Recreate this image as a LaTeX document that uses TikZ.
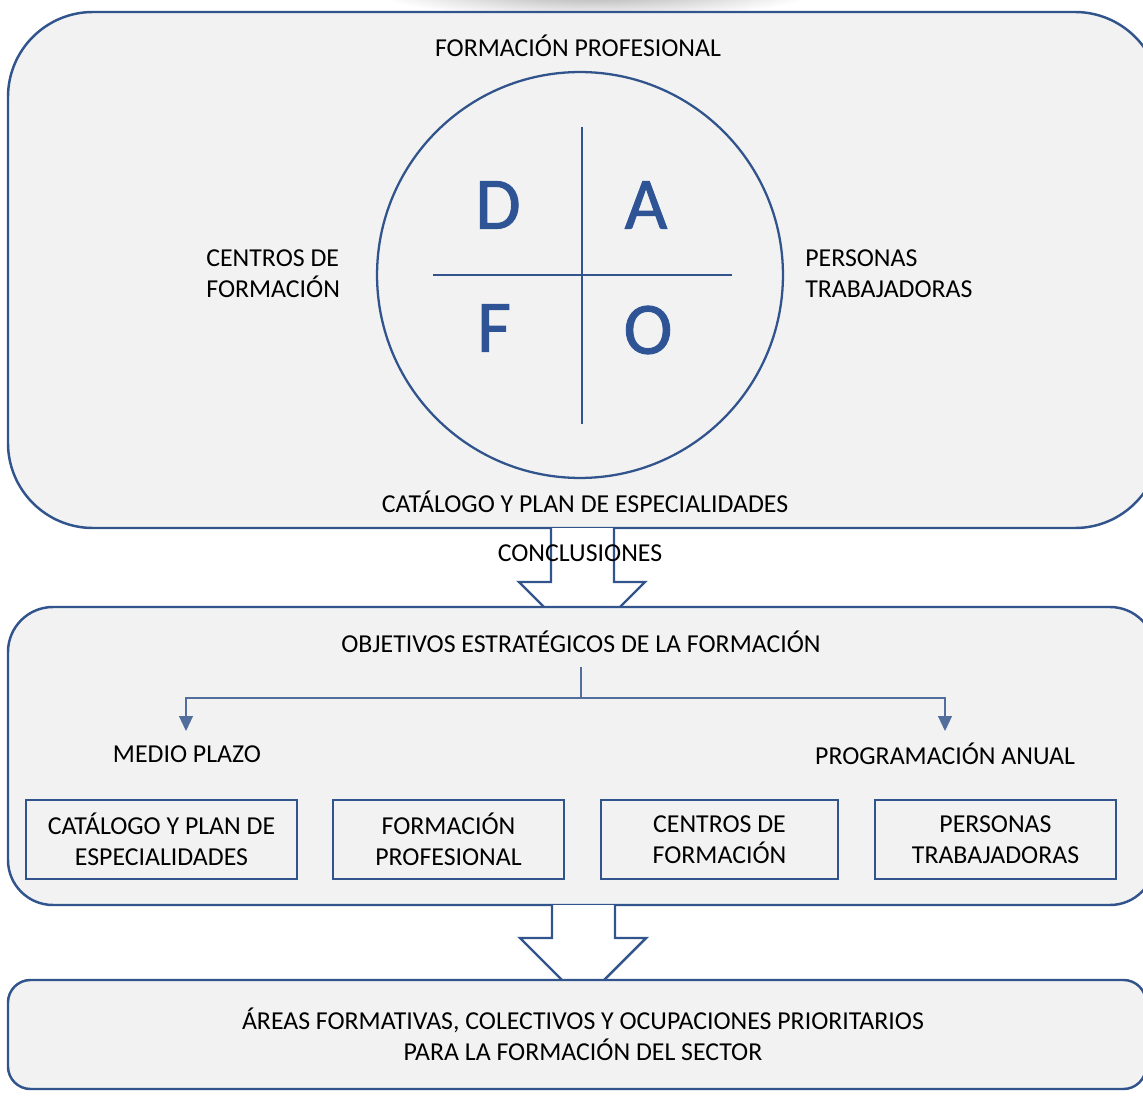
\documentclass[tikz,border=0pt]{standalone}
\usepackage{fontspec}
\setmainfont{Carlito}
\newfontfamily\dafofont{Carlito}[FakeBold=1.2]
\usepackage{xcolor}
\usetikzlibrary{shapes,arrows,positioning,calc,arrows.meta}
\definecolor{marco}{RGB}{50,84,140}
\definecolor{fondo}{RGB}{242,242,242}
\definecolor{letra}{RGB}{47,84,150}

\tikzset{
  caja/.style={draw=marco, line width=1.4pt, fill=fondo},
  texto/.style={font=\fontsize{14.7}{17.5}\selectfont, inner sep=0pt, align=center},
  cajita/.style={draw=marco, line width=0.9pt, fill=fondo, minimum height=1.58cm, font=\fontsize{14.7}{17.5}\selectfont, align=center, inner sep=0pt},
  dafo/.style={font=\dafofont\fontsize{42}{42}\selectfont, text=letra, inner sep=0pt},
  flecha/.style={draw=marco, line width=1.4pt, fill=white, line join=miter},
  conector/.style={draw=marco!85, line width=0.6pt, -{Triangle[length=0.3cm,width=0.28cm]}}
}

\begin{document}
\begin{tikzpicture}[x=0.02cm,y=-0.02cm]
    \useasboundingbox (0,0) rectangle (1143,1101);
    \clip (0,0) rectangle (1143,1101);
    \fill[white] (0,0) rectangle (1143,1101);

    % sombra
    \shade[inner color=gray!65, outer color=white] (595,-8) ellipse (220 and 26);

    % DAFO
    \path[caja, rounded corners=1.7cm] (8,12) rectangle (1160,528);
    \node[draw=marco, line width=1.3pt, circle, minimum size=8.12cm] (circulo) at (580,275) {};
    \draw[marco, line width=1.3pt] (582,127) -- (582,424);
    \draw[marco, line width=1.3pt] (433,275) -- (732,275);
    \node[dafo] (d) at (498,205) {D};
    \node[dafo] (a) at (646,205) {A};
    \node[dafo] (f) at (494,328) {F};
    \node[dafo] (o) at (648,330) {O};
    \node[texto] (fp) at (578,46) {FORMACIÓN PROFESIONAL};
    \node[texto, anchor=west, align=left] (cf) at (206,274) {CENTROS DE\\FORMACIÓN};
    \node[texto, anchor=west, align=left] (pt) at (805,274) {PERSONAS\\TRABAJADORAS};
    \node[texto] (cat) at (585,502) {CATÁLOGO Y PLAN DE ESPECIALIDADES};

    % flecha 1
    \path[flecha] (551,528) -- (551,582) -- (519,582) -- (582,645) -- (645,582) -- (614,582) -- (614,528);
    \node[texto] (concl) at (580,553) {CONCLUSIONES};

    % objetivos
    \path[caja, rounded corners=0.9cm] (8,607) rectangle (1155,905);
    \node[texto] (obj) at (581,642) {OBJETIVOS ESTRATÉGICOS DE LA FORMACIÓN};
    \coordinate (raiz) at (581,667);
    \coordinate (bifurc) at (581,698);
    \coordinate (finmedio) at (186,731);
    \coordinate (finprog) at (945,731);
    \draw[conector] (raiz) -- (bifurc) -| (finmedio);
    \draw[conector] (bifurc) -| (finprog);
    \node[texto] (medio) at (187,754) {MEDIO PLAZO};
    \node[texto] (prog) at (945,754) {PROGRAMACIÓN ANUAL};
    \node[cajita, minimum width=5.42cm] (c1) at (161.5,839.5) {CATÁLOGO Y PLAN DE\\ESPECIALIDADES};
    \node[cajita, minimum width=4.62cm] (c2) at (448.5,839.5) {FORMACIÓN\\PROFESIONAL};
    \node[cajita, minimum width=4.74cm] (c3) at (719.5,839.5) {CENTROS DE\\FORMACIÓN};
    \node[cajita, minimum width=4.82cm] (c4) at (995.5,839.5) {PERSONAS\\TRABAJADORAS};

    % flecha 2
    \path[flecha] (552,905) -- (552,938) -- (520,938) -- (583,1001) -- (646,938) -- (615,938) -- (615,905);

    % areas
    \path[caja, rounded corners=0.45cm] (8,980) rectangle (1146,1089);
    \node[texto] (areas) at (583,1034) {ÁREAS FORMATIVAS, COLECTIVOS Y OCUPACIONES PRIORITARIOS\\PARA LA FORMACIÓN DEL SECTOR};
\end{tikzpicture}
\end{document}
